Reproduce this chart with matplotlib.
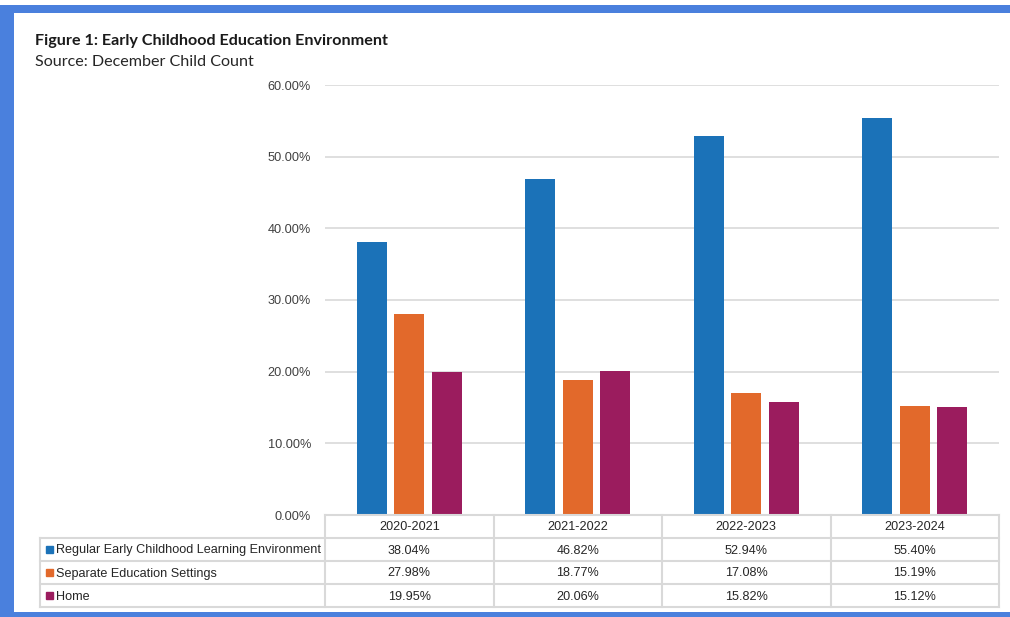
import matplotlib
matplotlib.use("Agg")
import matplotlib.pyplot as plt
from matplotlib.lines import Line2D
from matplotlib.patches import Rectangle
import numpy as np

years = ["2020-2021", "2021-2022", "2022-2023", "2023-2024"]
series_names = ["Regular Early Childhood Learning Environment",
                "Separate Education Settings", "Home"]
regular = [38.04, 46.82, 52.94, 55.40]
separate = [27.98, 18.77, 17.08, 15.19]
home = [19.95, 20.06, 15.82, 15.12]
yticks = [0, 10, 20, 30, 40, 50, 60]
colors = ["#1b72b8", "#e2692b", "#9b1c5e"]

W, H = 1010, 617
fig = plt.figure(figsize=(W / 100, H / 100), dpi=100)
fig.patch.set_facecolor("white")

# plot area in pixel coordinates
px_left, px_right, px_top, px_bottom = 325, 999, 85, 515
ax = fig.add_axes([px_left / W, 1 - px_bottom / H,
                   (px_right - px_left) / W, (px_bottom - px_top) / H])
x = np.arange(len(years))
width = 0.178
step = 0.223
for i, (vals, c) in enumerate(zip([regular, separate, home], colors)):
    ax.bar(x + (i - 1) * step, vals, width=width, color=c, zorder=3)
ax.set_xlim(-0.5, len(years) - 0.5)
ax.set_ylim(0, 60)
ax.set_yticks(yticks)
ax.set_yticklabels([f"{v:.2f}%" for v in yticks], fontfamily="Liberation Sans",
                   fontsize=9.2, color="#404040")
ax.tick_params(axis="y", length=0, pad=10)
ax.set_xticks([])
ax.grid(axis="y", color="#d9d9d9", linewidth=1.2, zorder=0)
for s in ax.spines.values():
    s.set_visible(False)

# overlay in pixel coordinates for table, title, border
ov = fig.add_axes([0, 0, 1, 1], zorder=5)
ov.set_xlim(0, W)
ov.set_ylim(H, 0)
ov.axis("off")
ov.patch.set_alpha(0)

gc = "#d9d9d9"
lw = 1.5
row_y = [515, 538, 561, 584, 607]
col_x = [px_left + (px_right - px_left) * k / len(years) for k in range(len(years) + 1)]
tbl_left = 40

def hline(x0, x1, y):
    ov.add_line(Line2D([x0, x1], [y, y], color=gc, lw=lw))

def vline(xx, y0, y1):
    ov.add_line(Line2D([xx, xx], [y0, y1], color=gc, lw=lw))

hline(px_left, px_right, row_y[0])
for yy in row_y[1:]:
    hline(tbl_left, px_right, yy)
vline(tbl_left, row_y[1], row_y[-1])
for xx in col_x:
    vline(xx, row_y[0], row_y[-1])

tfont = dict(fontfamily="Liberation Sans", fontsize=9.1, color="#262626")
for j, yr in enumerate(years):
    cx = (col_x[j] + col_x[j + 1]) / 2
    ov.text(cx, (row_y[0] + row_y[1]) / 2 + 1, yr, ha="center", va="center", **tfont)
for i, (name, vals, c) in enumerate(zip(series_names, [regular, separate, home], colors)):
    cy = (row_y[i + 1] + row_y[i + 2]) / 2
    ov.add_patch(Rectangle((45.5, cy - 3.5), 7, 7, color=c))
    ov.text(56, cy + 1, name, ha="left", va="center", **tfont)
    for j, v in enumerate(vals):
        cx = (col_x[j] + col_x[j + 1]) / 2
        ov.text(cx, cy + 1, f"{v:.2f}%", ha="center", va="center", **tfont)

# titles
ov.text(35, 41, "Figure 1: Early Childhood Education Environment", fontfamily="Lato",
        fontweight="bold", fontsize=11.6, color="#1a1a1a", ha="left", va="center")
ov.text(35, 62, "Source: December Child Count", fontfamily="Lato",
        fontsize=11.6, color="#262626", ha="left", va="center")

# blue frame
bc = "#4a80dd"
ov.add_patch(Rectangle((0, 5), W, 8, color=bc, lw=0))
ov.add_patch(Rectangle((0, 5), 14, H, color=bc, lw=0))
ov.add_patch(Rectangle((0, 612), W, 5, color=bc, lw=0))

fig.savefig("out.png", dpi=100, facecolor="white")
